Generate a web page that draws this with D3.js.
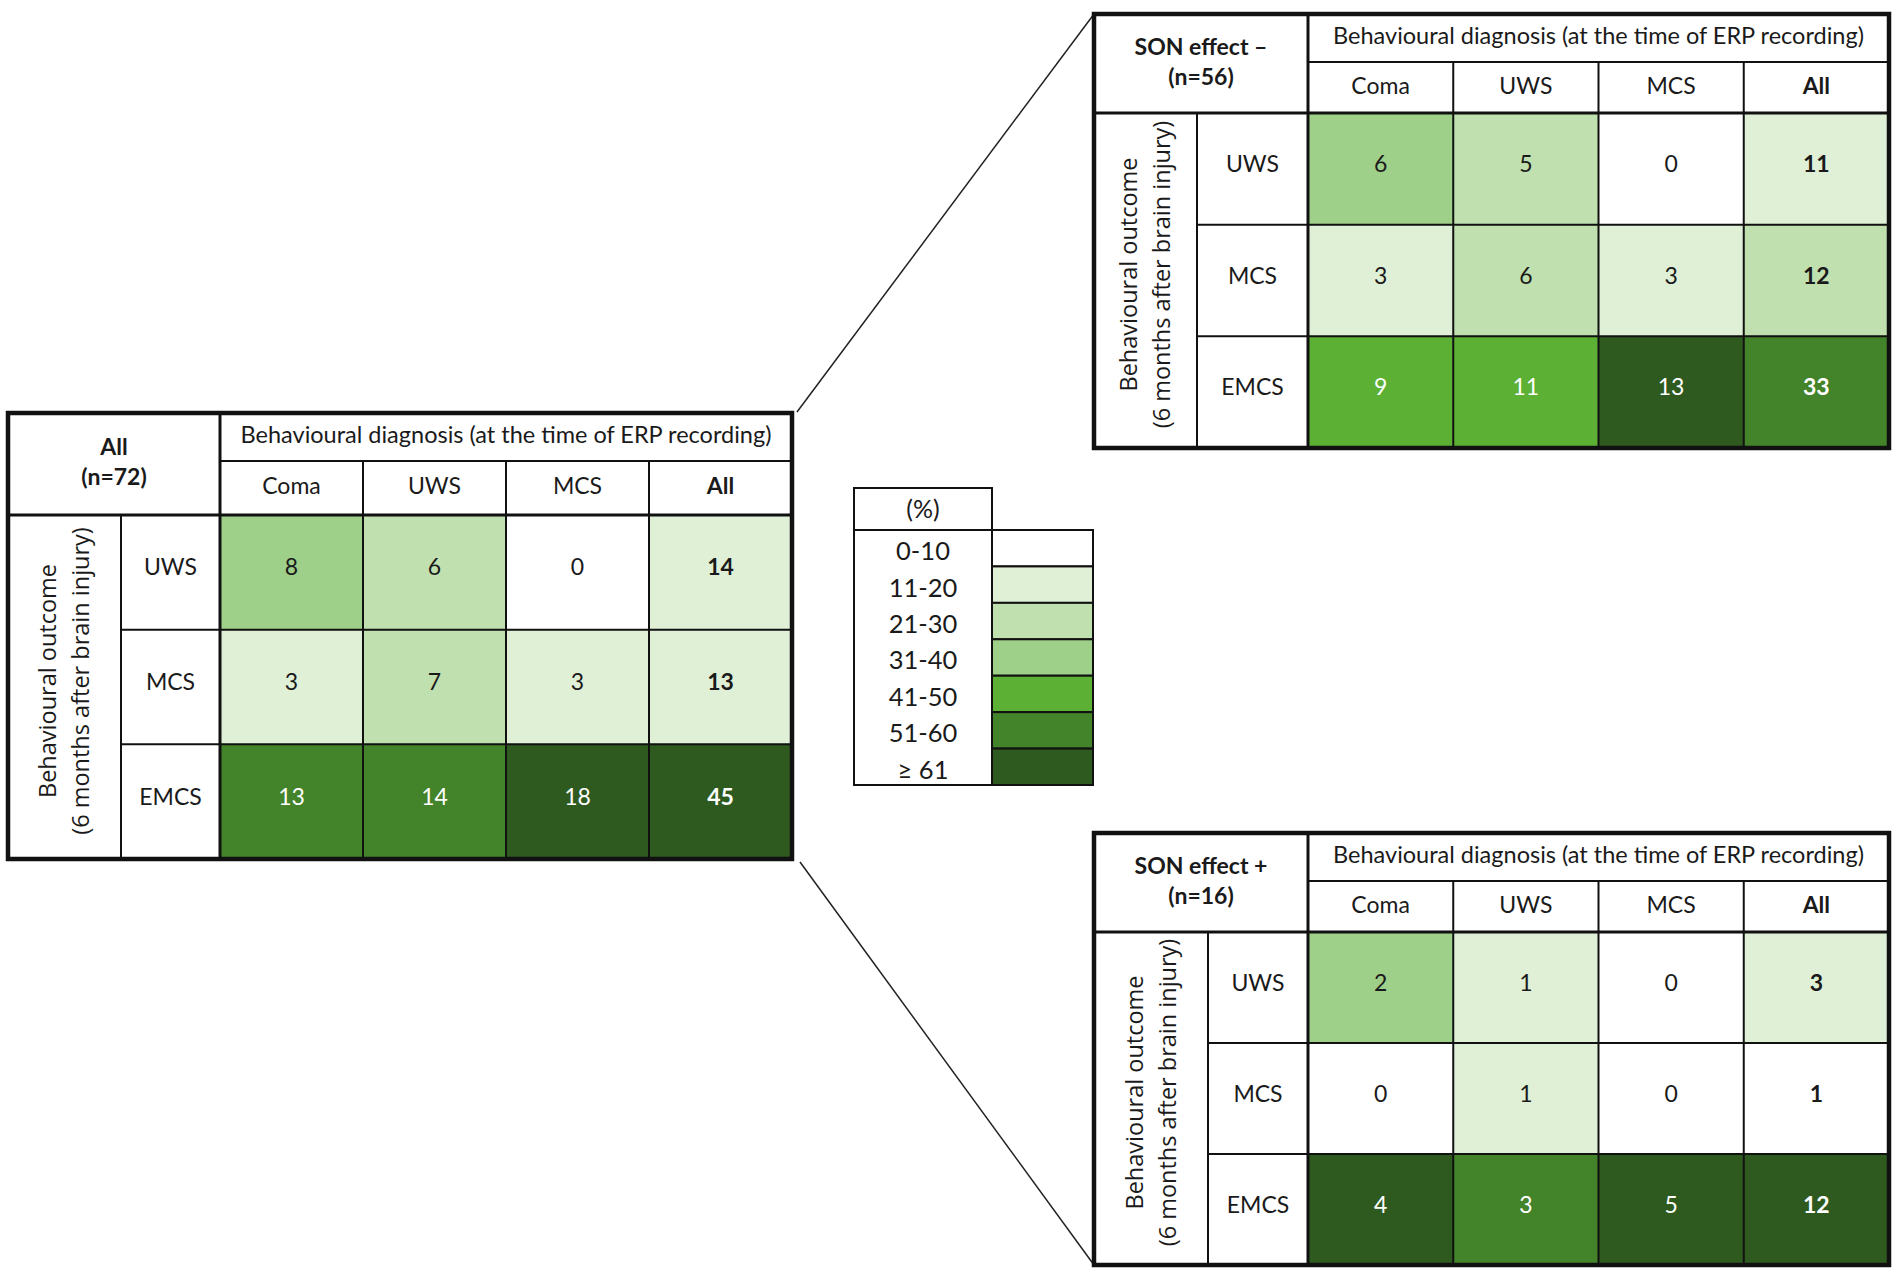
<!DOCTYPE html>
<html>
<head>
<meta charset="utf-8">
<script src="https://cdn.jsdelivr.net/npm/d3@7"></script>
<style>
  body { margin: 0; background: #fff; }
  svg { display: block; }
</style>
</head>
<body>
<script>
// categories
const diagCols = ["Coma", "UWS", "MCS", "All"];
const outcomeRows = ["UWS", "MCS", "EMCS"];

// counts per table, rows = outcome, cols = diagnosis
const allCounts = [[8, 6, 0, 14], [3, 7, 3, 13], [13, 14, 18, 45]];
const sonMinusCounts = [[6, 5, 0, 11], [3, 6, 3, 12], [9, 11, 13, 33]];
const sonPlusCounts = [[2, 1, 0, 3], [0, 1, 0, 1], [4, 3, 5, 12]];

// legend
const legendLabels = ["0-10", "11-20", "21-30", "31-40", "41-50", "51-60", "\u2265 61"];
const legendColors = ["#ffffff", "#dff0d7", "#c0e0af", "#9fd08a", "#5cb033", "#43832a", "#2e5a1f"];
const pctBreaks = [10.5, 20.5, 30.5, 40.5, 50.5, 60.5];

const colTitle = "Behavioural diagnosis (at the time of ERP recording)";
const rowTitle = ["Behavioural outcome", "(6 months after brain injury)"];

const width = 1902, height = 1277;
const calibri = "Lato, 'Open Sans', sans-serif";
const segoe = "'Open Sans', 'DejaVu Sans', sans-serif";

const color = d3.scaleThreshold().domain(pctBreaks).range(legendColors);

const svg = d3.select("body").append("svg")
    .attr("width", width)
    .attr("height", height);

function drawTable(box, title, counts) {
    const g = svg.append("g");
    const colTotals = diagCols.map((c, j) => d3.sum(counts, r => r[j]));

    const x = d3.scaleBand().domain(diagCols).range([box.x0 + box.labW, box.x1]);
    const y = d3.scaleBand().domain(outcomeRows).range([box.h2, box.y1]);

    const cells = [];
    counts.forEach((r, i) => r.forEach((v, j) => {
        cells.push({ row: outcomeRows[i], col: diagCols[j], v: v, pct: v / colTotals[j] * 100 });
    }));

    g.selectAll("rect.cell")
        .data(cells)
        .enter()
        .append("rect")
        .attr("x", d => x(d.col))
        .attr("y", d => y(d.row))
        .attr("width", x.bandwidth())
        .attr("height", y.bandwidth())
        .attr("fill", d => color(d.pct));

    // white text on the darker greens (41% and up)
    g.selectAll("text.val")
        .data(cells)
        .enter()
        .append("text")
        .attr("x", d => x(d.col) + x.bandwidth() / 2)
        .attr("y", d => y(d.row) + y.bandwidth() / 2 - 5)
        .attr("dy", "0.35em")
        .attr("text-anchor", "middle")
        .style("font-family", calibri)
        .style("font-size", "23px")
        .style("font-weight", d => d.col === "All" ? "bold" : "normal")
        .attr("fill", d => legendColors.indexOf(color(d.pct)) >= 4 ? "#ffffff" : "#1a1a1a")
        .text(d => d.v);

    // grid lines
    const line = (x1, y1, x2, y2, w) => g.append("line")
        .attr("x1", x1).attr("y1", y1).attr("x2", x2).attr("y2", y2)
        .attr("stroke", "#111").attr("stroke-width", w);

    line(box.x0 + box.labW, box.h1, box.x1, box.h1, 2);
    line(box.x0, box.h2, box.x1, box.h2, 3);
    outcomeRows.slice(1).forEach(r => line(box.x0 + box.rotW, y(r), box.x1, y(r), 2));
    line(box.x0 + box.rotW, box.h2, box.x0 + box.rotW, box.y1, 2);
    line(box.x0 + box.labW, box.y0, box.x0 + box.labW, box.y1, 3);
    diagCols.slice(1).forEach(c => line(x(c), box.h1, x(c), box.y1, 2));

    g.append("rect")
        .attr("x", box.x0).attr("y", box.y0)
        .attr("width", box.x1 - box.x0).attr("height", box.y1 - box.y0)
        .attr("fill", "none").attr("stroke", "#111").attr("stroke-width", 4.5);

    // corner title
    const cx = box.x0 + box.labW / 2, cy = (box.y0 + box.h2) / 2;
    g.append("text")
        .attr("text-anchor", "middle")
        .style("font-family", calibri)
        .style("font-size", "23px")
        .style("font-weight", "bold")
        .attr("fill", "#1a1a1a")
        .selectAll("tspan")
        .data(title)
        .enter()
        .append("tspan")
        .attr("x", cx)
        .attr("y", (d, i) => cy + (i - 0.5) * 30 - 2)
        .attr("dy", "0.35em")
        .text(d => d);

    // column title
    g.append("text")
        .attr("x", (box.x0 + box.labW + box.x1) / 2)
        .attr("y", (box.y0 + box.h1) / 2 - 2)
        .attr("dy", "0.35em")
        .attr("text-anchor", "middle")
        .style("font-family", calibri)
        .style("font-size", "23.5px")
        .attr("fill", "#1a1a1a")
        .text(colTitle);

    g.selectAll("text.colLab")
        .data(diagCols)
        .enter()
        .append("text")
        .attr("x", d => x(d) + x.bandwidth() / 2)
        .attr("y", (box.h1 + box.h2) / 2 - 2)
        .attr("dy", "0.35em")
        .attr("text-anchor", "middle")
        .style("font-family", calibri)
        .style("font-size", "23px")
        .style("font-weight", d => d === "All" ? "bold" : "normal")
        .attr("fill", "#1a1a1a")
        .text(d => d);

    g.selectAll("text.rowLab")
        .data(outcomeRows)
        .enter()
        .append("text")
        .attr("x", box.x0 + (box.rotW + box.labW) / 2)
        .attr("y", d => y(d) + y.bandwidth() / 2 - 5)
        .attr("dy", "0.35em")
        .attr("text-anchor", "middle")
        .style("font-family", calibri)
        .style("font-size", "23px")
        .attr("fill", "#1a1a1a")
        .text(d => d);

    // rotated row title
    const rx = box.x0 + box.rotW / 2, ry = (box.h2 + box.y1) / 2;
    g.append("text")
        .attr("transform", `translate(${rx},${ry}) rotate(-90)`)
        .attr("text-anchor", "middle")
        .style("font-family", segoe)
        .style("font-size", "23.5px")
        .attr("fill", "#1a1a1a")
        .selectAll("tspan")
        .data(rowTitle)
        .enter()
        .append("tspan")
        .attr("x", 6)
        .attr("y", (d, i) => (i - 0.5) * 33)
        .attr("dy", "0.35em")
        .text(d => d);
}

// connector lines
svg.append("line")
    .attr("x1", 797).attr("y1", 412).attr("x2", 1094).attr("y2", 14)
    .attr("stroke", "#222").attr("stroke-width", 1.5);
svg.append("line")
    .attr("x1", 800).attr("y1", 862).attr("x2", 1094).attr("y2", 1265)
    .attr("stroke", "#222").attr("stroke-width", 1.5);

drawTable({ x0: 8, y0: 413, x1: 792, y1: 859, h1: 461, h2: 515, rotW: 113, labW: 212 },
    ["All", "(n=72)"], allCounts);
drawTable({ x0: 1094, y0: 14, x1: 1889, y1: 448, h1: 62, h2: 113, rotW: 103, labW: 214 },
    ["SON effect \u2013", "(n=56)"], sonMinusCounts);
drawTable({ x0: 1094, y0: 833, x1: 1889, y1: 1265, h1: 881, h2: 932, rotW: 114, labW: 214 },
    ["SON effect +", "(n=16)"], sonPlusCounts);

// legend
const lg = svg.append("g");
const lx0 = 854, lx1 = 992, lx2 = 1093, ly0 = 488, ly1 = 530, ly2 = 785;
const ly = d3.scaleBand().domain(legendLabels).range([ly1, ly2]);

lg.selectAll("rect.sw")
    .data(legendLabels)
    .enter()
    .append("rect")
    .attr("x", lx1)
    .attr("y", d => ly(d))
    .attr("width", lx2 - lx1)
    .attr("height", ly.bandwidth())
    .attr("fill", (d, i) => legendColors[i])
    .attr("stroke", "#111")
    .attr("stroke-width", 2);

lg.append("rect")
    .attr("x", lx0).attr("y", ly0)
    .attr("width", lx1 - lx0).attr("height", ly1 - ly0)
    .attr("fill", "none").attr("stroke", "#111").attr("stroke-width", 2);
lg.append("rect")
    .attr("x", lx0).attr("y", ly1)
    .attr("width", lx1 - lx0).attr("height", ly2 - ly1)
    .attr("fill", "none").attr("stroke", "#111").attr("stroke-width", 2);

lg.append("text")
    .attr("x", (lx0 + lx1) / 2)
    .attr("y", (ly0 + ly1) / 2)
    .attr("dy", "0.35em")
    .attr("text-anchor", "middle")
    .style("font-family", calibri)
    .style("font-size", "25px")
    .attr("fill", "#1a1a1a")
    .text("(%)");

lg.selectAll("text.lab")
    .data(legendLabels)
    .enter()
    .append("text")
    .attr("x", (lx0 + lx1) / 2)
    .attr("y", d => ly(d) + ly.bandwidth() / 2 + 3)
    .attr("dy", "0.35em")
    .attr("text-anchor", "middle")
    .style("font-family", calibri)
    .style("font-size", "25.5px")
    .attr("fill", "#1a1a1a")
    .text(d => d);
</script>
</body>
</html>
